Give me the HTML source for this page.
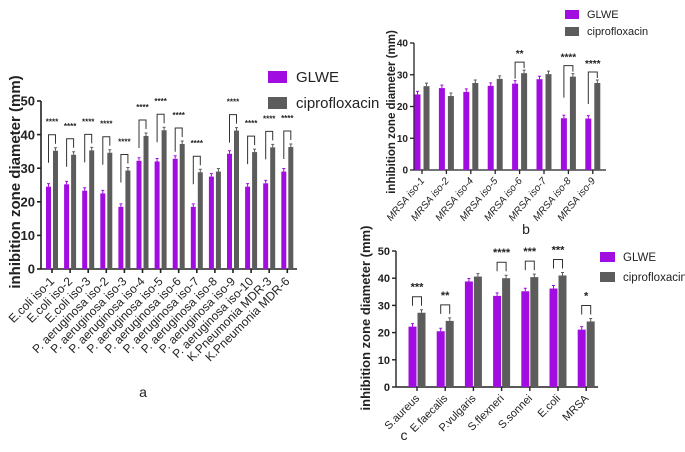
<!DOCTYPE html>
<html><head><meta charset="utf-8">
<style>
body{margin:0;background:#fff;width:685px;height:447px;overflow:hidden}
svg{font-family:"Liberation Sans",Arial,sans-serif}
</style></head>
<body>
<svg id="fig" width="685" height="447" viewBox="0 0 685 447" xmlns="http://www.w3.org/2000/svg"></svg>
<script>
// ---- Panel a data ----
const catsA = ["E.coli iso-1","E.coli iso-2","E.coli iso-3","P. aeruginosa iso-2","P. aeruginosa iso-3","P. aeruginosa iso-4","P. aeruginosa iso-5","P. aeruginosa iso-6","P. aeruginosa iso-7","P. aeruginosa iso-8","P. aeruginosa iso-9","P. aeruginosa iso-10","K.Pneumonia MDR-3","K.Pneumonia MDR-6"];
const glweA = [24.5,25.2,23.3,22.5,18.5,32.2,32,32.8,18.5,27.5,34.3,24.5,25.5,29];
const ciproA = [35.2,34,35.3,34.6,29.3,39.6,41.3,37.2,28.8,29,41.2,34.8,36.2,36.3];
const sigA = ["****","****","****","****","****","****","****","****","****","","****","****","****","****"];
const ticksA = [0,10,20,30,40,50];
// ---- Panel b data ----
const catsB = ["MRSA iso-1","MRSA iso-2","MRSA iso-4","MRSA iso-5","MRSA iso-6","MRSA iso-7","MRSA iso-8","MRSA iso-9"];
const glweB = [23.8,25.8,24.6,26.5,27.2,28.6,16.3,16.2];
const ciproB = [26.4,23.3,27.4,28.7,30.5,30.2,29.4,27.4];
const sigB = ["","","","","**","","****","****"];
const ticksB = [0,10,20,30,40];
// ---- Panel c data ----
const catsC = ["S.aureus","E.faecalis","P.vulgaris","S.flexneri","S.sonnei","E.coli","MRSA"];
const glweC = [22.2,20.5,38.8,33.5,35.2,36.2,21.1];
const ciproC = [27.3,24.3,40.6,40,40.4,41,24.1];
const sigC = ["***","**","","****","***","***","*"];
const ticksC = [0,10,20,30,40,50];

const NS="http://www.w3.org/2000/svg";
const svg=document.getElementById('fig');
function el(tag,attrs,parent,text){const e=document.createElementNS(NS,tag);for(const k in attrs)e.setAttribute(k,attrs[k]);if(text!==undefined)e.textContent=text;(parent||svg).appendChild(e);return e;}

function panel(cfg){
  const g=el('g',{});
  
  
  const y=v=>cfg.y0-(v/cfg.ymax)*(cfg.y0-cfg.yTop);
  const x=i=>cfg.x0+i*cfg.step;
  const ya=el('line',{x1:cfg.axX,y1:y(cfg.ymax),x2:cfg.axX,y2:cfg.y0+0.5,stroke:'#222','stroke-width':cfg.lw},g);
  
  const xa=el('line',{x1:cfg.axX,y1:cfg.y0,x2:cfg.axEnd,y2:cfg.y0,stroke:'#222','stroke-width':cfg.lw},g);
  
  cfg.ticks.forEach(t=>{
    el('line',{x1:cfg.axX-4,y1:y(t),x2:cfg.axX,y2:y(t),stroke:'#222','stroke-width':cfg.lw},g);
    const tl=el('text',{x:cfg.axX-6,y:y(t)+cfg.tfs*0.36,'text-anchor':'end','font-size':cfg.tfs,'font-weight':'bold',fill:'#222'},g,String(t));
    
  });
  cfg.cats.forEach((c,i)=>{
    const cx=x(i);
    el('line',{x1:cx,y1:cfg.y0,x2:cx,y2:cfg.y0+4,stroke:'#222','stroke-width':cfg.lw},g);
    const gv=cfg.g[i],cv=cfg.c[i];
    const b1=el('rect',{x:cx-cfg.gap-cfg.bw,y:y(gv),width:cfg.bw,height:cfg.y0-y(gv),fill:'#a10de0'},g);
    
    const b2=el('rect',{x:cx+cfg.gap,y:y(cv),width:cfg.bw,height:cfg.y0-y(cv),fill:'#5c5c5c'},g);
    
    el('path',{d:`M${cx-cfg.gap-cfg.bw/2} ${y(gv)} v-3 m-1.5 0 h3`,stroke:'#a10de0','stroke-width':1,fill:'none'},g);
    el('path',{d:`M${cx+cfg.gap+cfg.bw/2} ${y(cv)} v-3 m-1.5 0 h3`,stroke:'#5c5c5c','stroke-width':1,fill:'none'},g);
    const lab=el('text',{transform:`translate(${cx+3},${cfg.y0+cfg.lOff}) rotate(${cfg.rot})`,'text-anchor':'end','font-size':cfg.lfs,'font-style':cfg.italic?'italic':'normal',fill:'#222'},g,c);
    
    if(cfg.sig[i]){
      const top=y(Math.max(gv,cv))-cfg.brH;
      const xl=cx-cfg.gap-cfg.bw/2, xr=cx+cfg.gap+cfg.bw/2;
      const lb=Math.min(y(gv)-cfg.brGap, top+cfg.LL);
      const rb=Math.min(y(cv)-cfg.brGap, top+cfg.RL);
      const br=el('path',{d:`M${xl} ${lb} V${top} H${xr} V${rb}`,stroke:'#333','stroke-width':1,fill:'none'},g);
      
      const st=el('text',{x:(xl+xr)/2,y:top-cfg.stOff,'text-anchor':'middle','font-size':cfg.sfs,'font-weight':'bold',fill:'#222'},g,cfg.sig[i]);
      
    }
  });
  const yt=el('text',{transform:`translate(${cfg.ytX},${cfg.ytY}) rotate(-90)`,'text-anchor':'middle','font-size':cfg.ytfs,'font-weight':'bold',fill:'#222'},g,'inhibition zone diameter (mm)');
  
  const lg=el('g',{},g);
  const L=cfg.leg;
  const e1=el('g',{},lg);
  el('rect',{x:L.x,y:L.y,width:L.w,height:L.h,fill:'#a10de0'},e1);
  el('text',{x:L.x+L.w+L.tg,y:L.y+L.h-1,'font-size':L.fs,fill:'#222'},e1,'GLWE');
  const e2=el('g',{},lg);
  el('rect',{x:L.x,y:L.y+L.dy,width:L.w,height:L.h,fill:'#5c5c5c'},e2);
  el('text',{x:L.x+L.w+L.tg,y:L.y+L.dy+L.h-1,'font-size':L.fs,fill:'#222'},e2,'ciprofloxacin');
  const pl=el('text',{x:cfg.pl[0],y:cfg.pl[1],'text-anchor':'middle','font-size':14,fill:'#222'},g,cfg.plab);
  
}

panel({name:'chart-a',cats:catsA,g:glweA,c:ciproA,sig:sigA,ticks:ticksA,ymax:50,y0:269,yTop:101,axX:41,axEnd:297,x0:52,step:18.1,bw:5,gap:1,lw:1.6,tfs:13,lfs:12,rot:-45,lOff:13,italic:false,brH:16,brGap:7,LL:28,RL:9,stOff:10,sfs:8,ytX:20,ytY:182,ytfs:15,
  leg:{x:268,y:71,w:19,h:12,tg:9,fs:15,dy:26},pl:[143,397],plab:'a'});
panel({name:'chart-b',cats:catsB,g:glweB,c:ciproB,sig:sigB,ticks:ticksB,ymax:40,y0:170,yTop:43,axX:414,axEnd:606,x0:422,step:24.4,bw:6,gap:1.5,lw:1.3,tfs:10,lfs:10,rot:-50,lOff:11,italic:true,brH:11,brGap:5,LL:32,RL:6,stOff:5,sfs:10,ytX:395,ytY:112,ytfs:11.5,
  leg:{x:565,y:10,w:14,h:9,tg:8,fs:11,dy:17},pl:[526,234],plab:'b'});
panel({name:'chart-c',cats:catsC,g:glweC,c:ciproC,sig:sigC,ticks:ticksC,ymax:50,y0:387,yTop:251,axX:396,axEnd:598,x0:417,step:28.2,bw:8,gap:0.5,lw:1.4,tfs:11,lfs:11,rot:-45,lOff:12,italic:false,brH:16,brGap:5,LL:9,RL:9,stOff:6,sfs:11,ytX:370,ytY:318,ytfs:13,
  leg:{x:600,y:252,w:15,h:10,tg:8,fs:11.5,dy:20},pl:[404,440],plab:'c'});
</script>
</body></html>
